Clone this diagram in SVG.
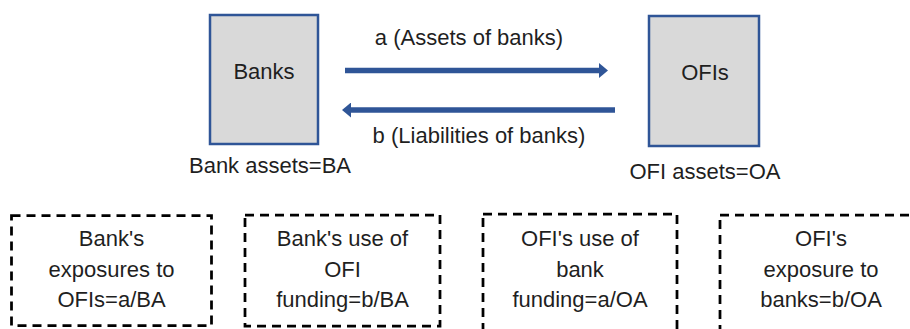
<svg xmlns="http://www.w3.org/2000/svg" width="910" height="329" viewBox="0 0 910 329">
<style>
  .t { font-family: "Liberation Sans", Arial, sans-serif; font-size: 22px; fill: #1f1f1f; text-anchor: middle; }
  .node { fill: #D9D9D9; stroke: #2F5597; stroke-width: 2.5; }
  .dash { fill: none; stroke: #000; stroke-width: 2.75; stroke-dasharray: 9 6; }
  .conn { stroke: #2F5597; stroke-width: 5.5; fill: none; }
</style>
<defs>
  <marker id="ah" markerUnits="userSpaceOnUse" markerWidth="10" markerHeight="15" viewBox="0 0 10 15" refX="1" refY="7.5" orient="auto">
    <path d="M0,0 L9,7.5 L0,15 z" fill="#2F5597"/>
  </marker>
</defs>
<rect width="910" height="329" fill="#fff"/>

<g id="banks">
  <rect class="node" x="210" y="15" width="108" height="129"/>
  <text class="t" x="264" y="79">Banks</text>
  <text class="t" x="270" y="173">Bank assets=BA</text>
</g>

<g id="ofis">
  <rect class="node" x="649" y="16" width="110" height="130"/>
  <text class="t" x="705" y="80">OFIs</text>
  <text class="t" x="705" y="179">OFI assets=OA</text>
</g>

<g id="connectors">
  <path class="conn" d="M345,70.5 L600,70.5" marker-end="url(#ah)"/>
  <path class="conn" d="M615,110 L350,110" marker-end="url(#ah)"/>
  <text class="t" x="469" y="45">a (Assets of banks)</text>
  <text class="t" x="479" y="143">b (Liabilities of banks)</text>
</g>

<g id="box1">
  <rect class="dash" x="11.5" y="215.5" width="200" height="110"/>
  <text class="t" x="111.5" y="246">Bank's</text>
  <text class="t" x="111.5" y="277">exposures to</text>
  <text class="t" x="111.5" y="307">OFIs=a/BA</text>
</g>

<g id="box2">
  <rect class="dash" x="245" y="215" width="195" height="111"/>
  <text class="t" x="342.5" y="246">Bank's use of</text>
  <text class="t" x="342.5" y="277">OFI</text>
  <text class="t" x="342.5" y="307">funding=b/BA</text>
</g>

<g id="box3">
  <rect class="dash" x="483" y="214" width="194" height="120"/>
  <text class="t" x="580" y="246">OFI's use of</text>
  <text class="t" x="580" y="277">bank</text>
  <text class="t" x="580" y="307">funding=a/OA</text>
</g>

<g id="box4">
  <rect class="dash" x="720" y="215" width="202" height="120"/>
  <text class="t" x="821" y="246">OFI's</text>
  <text class="t" x="821" y="277">exposure to</text>
  <text class="t" x="821" y="307">banks=b/OA</text>
</g>
</svg>
